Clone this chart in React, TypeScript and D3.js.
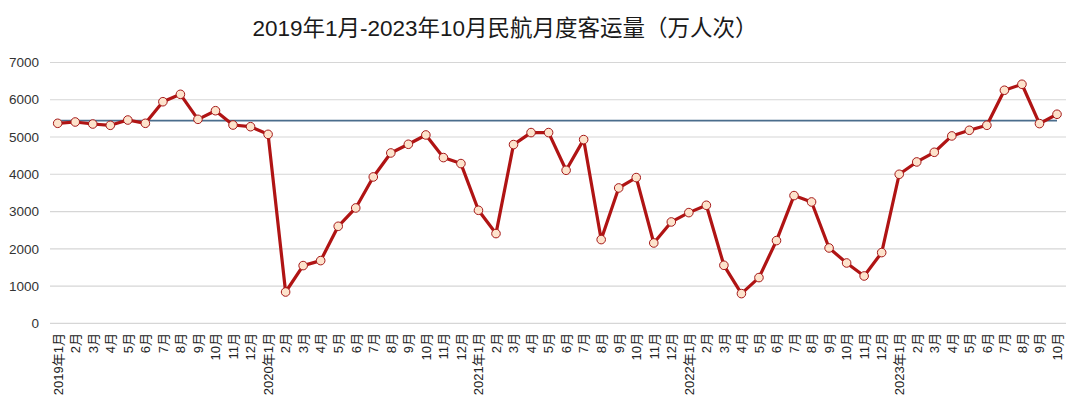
import React from "react";
import * as d3 from "d3";

const monthLabels: string[] = [
  "2019年1月", "2月", "3月", "4月", "5月", "6月", "7月", "8月", "9月", "10月", "11月", "12月",
  "2020年1月", "2月", "3月", "4月", "5月", "6月", "7月", "8月", "9月", "10月", "11月", "12月",
  "2021年1月", "2月", "3月", "4月", "5月", "6月", "7月", "8月", "9月", "10月", "11月", "12月",
  "2022年1月", "2月", "3月", "4月", "5月", "6月", "7月", "8月", "9月", "10月", "11月", "12月",
  "2023年1月", "2月", "3月", "4月", "5月", "6月", "7月", "8月", "9月", "10月",
];

const passengers: number[] = [
  5368, 5403, 5349, 5314, 5456, 5368, 5947, 6146, 5475, 5706, 5322, 5277,
  5072, 840, 1549, 1683, 2604, 3096, 3928, 4572, 4805, 5055, 4448, 4287,
  3033, 2408, 4797, 5119, 5119, 4107, 4931, 2247, 3633, 3911, 2156, 2720,
  2971, 3168, 1557, 797, 1227, 2220, 3428, 3257, 2022, 1619, 1270, 1898,
  4000, 4331, 4590, 5029, 5181, 5315, 6255, 6416, 5360, 5611,
];

const referenceLevel: number[] = monthLabels.map(() => 5440);

const yTicks: number[] = [0, 1000, 2000, 3000, 4000, 5000, 6000, 7000];

const title = "2019年1月-2023年10月民航月度客运量（万人次）";

export default function App() {
  const W = 1080;
  const H = 413;
  const keys = monthLabels.map((_, i) => String(i));
  const x = d3.scalePoint<string>().domain(keys).range([57.7, 1057]);
  const y = d3.scaleLinear().domain([0, 7000]).range([323.3, 62.5]);

  const line = d3
    .line<number>()
    .x((_, i) => x(String(i)) as number)
    .y((d) => y(d));

  const font = "'Liberation Sans', 'Noto Sans CJK SC', sans-serif";

  return (
    <svg
      width={W}
      height={H}
      style={{ position: "fixed", left: 0, top: 0, background: "#fff" }}
    >
      <rect x={0} y={0} width={W} height={H} fill="#fff" />
      <text
        x={505}
        y={36}
        textAnchor="middle"
        fontSize={22.5}
        fill="#1a1a1a"
        fontFamily={font}
      >
        {title}
      </text>
      {yTicks.map((t) => (
        <g key={t}>
          <line x1={50} x2={1066} y1={y(t)} y2={y(t)} stroke="#d6d6d6" strokeWidth={1.2} />
          <text
            x={39}
            y={y(t)}
            dy="0.35em"
            textAnchor="end"
            fontSize={13.5}
            fill="#333"
            fontFamily={font}
          >
            {t}
          </text>
        </g>
      ))}
      {monthLabels.map((m, i) => (
        <text
          key={i}
          transform={`translate(${(x(String(i)) as number) + 4.8},333) rotate(-90)`}
          textAnchor="end"
          fontSize={13}
          fill="#222"
          fontFamily={font}
        >
          {m}
        </text>
      ))}
      <path d={line(referenceLevel) || ""} fill="none" stroke="#4a6d8c" strokeWidth={1.6} />
      <path
        d={line(passengers) || ""}
        fill="none"
        stroke="#b01414"
        strokeWidth={3.2}
        strokeLinejoin="round"
      />
      {passengers.map((v, i) => (
        <circle
          key={i}
          cx={x(String(i)) as number}
          cy={y(v)}
          r={4.3}
          fill="#fde3cc"
          stroke="#a51818"
          strokeWidth={1}
        />
      ))}
    </svg>
  );
}
